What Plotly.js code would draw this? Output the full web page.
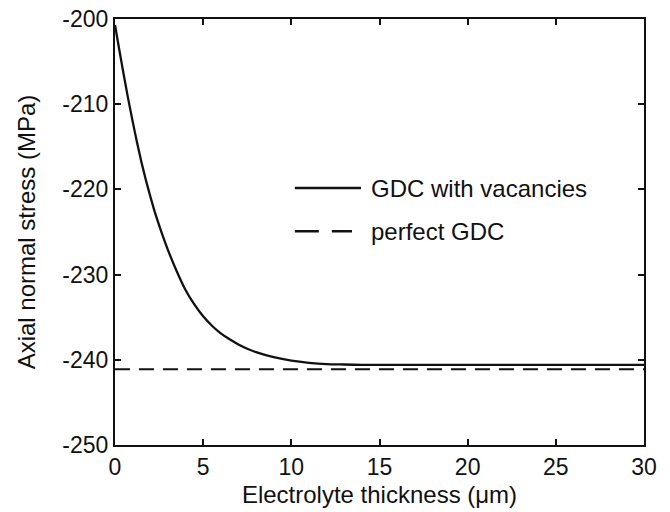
<!DOCTYPE html>
<html>
<head>
<meta charset="utf-8">
<script src="https://cdn.plot.ly/plotly-3.0.1.min.js"></script>
<style>
  html, body { margin: 0; padding: 0; background: #fff; }
  #chart { width: 670px; height: 512px; }
</style>
</head>
<body>
<div id="chart"></div>
<script>
// Electrolyte thickness (µm)
const thicknessVac = [0, 0.25, 0.5, 0.75, 1.0, 1.25, 1.5, 1.75, 2.0, 2.25, 2.5, 2.75, 3.0, 3.5, 4.0, 4.5, 5.0, 5.5, 6.0, 6.5, 7.0, 7.5, 8.0, 9.0, 10, 11, 12, 13, 14, 20, 25, 30];
// Axial normal stress for GDC with vacancies (MPa)
const stressVac = [-200.7, -203.7, -206.6, -209.4, -212.0, -214.5, -216.8, -218.9, -220.8, -222.6, -224.2, -225.7, -227.1, -229.6, -231.8, -233.5, -234.9, -236.0, -236.9, -237.6, -238.2, -238.7, -239.1, -239.7, -240.1, -240.35, -240.5, -240.55, -240.6, -240.6, -240.6, -240.6];
// Perfect GDC: constant stress over the thickness range
const thicknessPerfect = [0, 30];
const stressPerfect = [-241.1, -241.1];

const xTicks = [0, 5, 10, 15, 20, 25, 30];
const yTicks = [-250, -240, -230, -220, -210, -200];
const yTickText = ['-250', '-240', '-230', '-220', '-210', '-200'];

const seriesNames = ['GDC with vacancies', 'perfect GDC'];

const FONT = 'Liberation Sans, Arial, Helvetica, sans-serif';
const INK = '#111';

const traces = [
  {
    x: thicknessVac, y: stressVac, type: 'scatter', mode: 'lines',
    name: seriesNames[0], line: { color: INK, width: 2.3, shape: 'spline', smoothing: 0.5 },
    showlegend: false, hoverinfo: 'skip'
  },
  {
    x: thicknessPerfect, y: stressPerfect, type: 'scatter', mode: 'lines',
    name: seriesNames[1], line: { color: INK, width: 2, dash: '15px,9px' },
    showlegend: false, hoverinfo: 'skip'
  }
];

// hand-drawn key inside the plot area (paper coordinates)
const keyRows = [
  { y: 0.603, dash: 'solid', x0: 0.340, x1: 0.465 },
  { y: 0.502, dash: '24px,13px', x0: 0.340, x1: 0.448 }
];
const shapes = keyRows.map(r => ({
  type: 'line', xref: 'paper', yref: 'paper',
  x0: r.x0, x1: r.x1, y0: r.y, y1: r.y,
  line: { color: INK, width: 2.5, dash: r.dash }
}));
const annotations = keyRows.map((r, i) => ({
  xref: 'paper', yref: 'paper', x: 0.480, y: r.y,
  xanchor: 'left', yanchor: 'middle', showarrow: false,
  text: seriesNames[i], font: { family: FONT, size: 24, color: INK }
}));

const axisCommon = {
  showline: true, linecolor: INK, linewidth: 2,
  mirror: 'ticks', ticks: 'inside', ticklen: 6, tickwidth: 2, tickcolor: INK,
  showgrid: false, zeroline: false,
  tickfont: { family: FONT, size: 23, color: INK }
};

const layout = {
  width: 670, height: 512,
  margin: { l: 115, r: 26, t: 19, b: 67 },
  paper_bgcolor: '#fff', plot_bgcolor: '#fff',
  showlegend: false,
  xaxis: Object.assign({}, axisCommon, {
    range: [0, 30], tickmode: 'array', tickvals: xTicks,
    title: { text: 'Electrolyte thickness (\u03bcm)', font: { family: FONT, size: 24, color: INK }, standoff: 8 }
  }),
  yaxis: Object.assign({}, axisCommon, {
    range: [-250, -200], tickmode: 'array', tickvals: yTicks, ticktext: yTickText,
    title: { text: 'Axial normal stress (MPa)', font: { family: FONT, size: 24, color: INK }, standoff: 20 }
  }),
  shapes: shapes,
  annotations: annotations
};

Plotly.newPlot('chart', traces, layout, { staticPlot: true, displayModeBar: false });
</script>
</body>
</html>
